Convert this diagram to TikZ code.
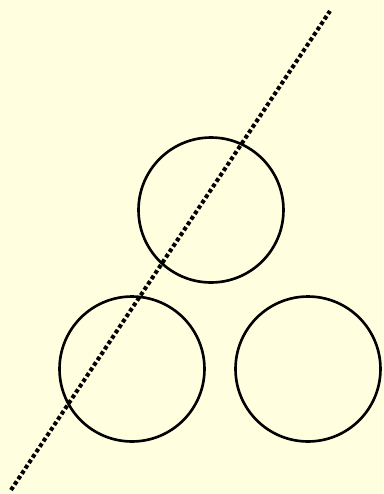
\documentclass[tikz,border=0pt]{standalone}
\usepackage{tikz}
\definecolor{paper}{RGB}{255,255,224}

\begin{document}
\begin{tikzpicture}[x=0.02cm,y=-0.02cm,
  ball/.style={circle,draw,line width=1.5pt,inner sep=0pt,minimum size=2.9cm}]
  \fill[paper] (0,0) rectangle (383,494);
  \useasboundingbox (0,0) rectangle (383,494);
  \coordinate (lo) at (11,490);
  \coordinate (hi) at (330,11);
  \node[ball] (top) at (211,210) {};
  \node[ball] (left) at (132,369) {};
  \node[ball] (right) at (308,369) {};
  \draw[line width=2.3pt,dash pattern=on 2.2pt off 1.5pt] (lo) -- (hi);
\end{tikzpicture}
\end{document}
